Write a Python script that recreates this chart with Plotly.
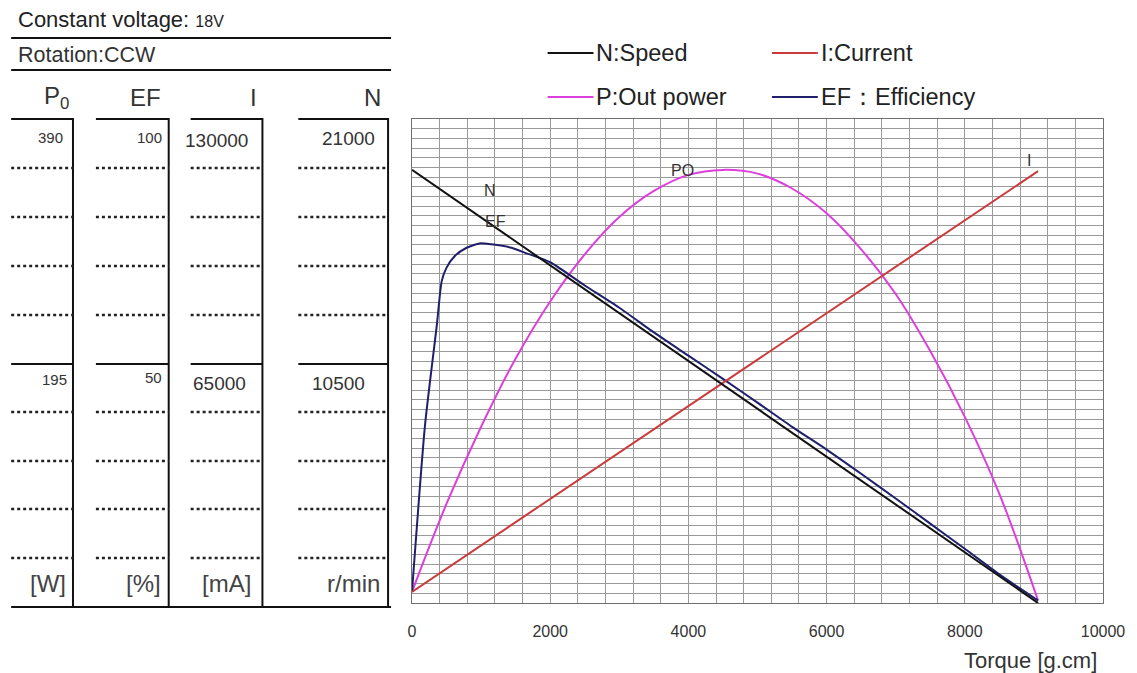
import plotly.graph_objects as go

# ---------------- data ----------------
torque_N = [0, 9060]
speed_N = [18800, 0]                    # r/min

torque_I = [0, 9060]
current_I = [3000, 116000]              # mA

torque_P = [0, 500, 1000, 1500, 2000, 2500, 3000, 3500, 4000, 4500, 5000,
            5500, 6000, 6500, 7000, 7500, 8000, 8500, 9060]
power_P = [9, 80, 142, 197, 243, 281, 311, 332, 345, 349, 346,
           334, 314, 285, 249, 203, 150, 88, 2]        # W

torque_EF = [0, 190, 360, 430, 500, 620, 790, 980, 1150, 1440, 1630, 2000,
             2500, 3000, 3500, 4000, 4500, 5000, 5500, 6000, 6500, 7000,
             7500, 8000, 8500, 9060]
eff_EF = [2.3, 37, 57.5, 66.5, 69.3, 71.7, 73.4, 74.3, 74.1, 73.4, 72.4, 70.4,
          65.6, 61.0, 55.9, 51.1, 46.3, 41.4, 36.4, 31.7, 26.7, 21.6,
          16.4, 11.2, 5.9, 0.5]                       # %

x_ticks = [0, 2000, 4000, 6000, 8000, 10000]
scale_top = ["390", "100", "130000", "21000"]
scale_mid = ["195", "50", "65000", "10500"]
scale_units = ["[W]", "[%]", "[mA]", "r/min"]
col_heads = ["P<sub>0</sub>", "EF", "I", "N"]
legend_names = ["N:Speed", "I:Current", "P:Out power", "EF：Efficiency"]

# ---------------- geometry (screen pixels) ----------------
W, H = 1137, 673
L, R, T, B = 412, 1105, 119, 603          # plot area
PW, PH = R - L, B - T
FONT = "Liberation Sans, Arial, sans-serif"


def px(x):
    return (x - L) / PW


def py(y):
    return (B - y) / PH


C_N, C_I, C_P, C_EF = "#111111", "#cc3b3b", "#dd3fdd", "#1f1f6b"

fig = go.Figure()
fig.add_trace(go.Scatter(x=torque_N, y=speed_N, mode="lines", yaxis="y4",
                         line=dict(color=C_N, width=2), name=legend_names[0]))
fig.add_trace(go.Scatter(x=torque_I, y=current_I, mode="lines", yaxis="y3",
                         line=dict(color=C_I, width=2), name=legend_names[1]))
fig.add_trace(go.Scatter(x=torque_P, y=power_P, mode="lines", yaxis="y",
                         line=dict(color=C_P, width=2, shape="spline"),
                         name=legend_names[2]))
fig.add_trace(go.Scatter(x=torque_EF, y=eff_EF, mode="lines", yaxis="y2",
                         line=dict(color=C_EF, width=2, shape="spline", smoothing=0.6),
                         name=legend_names[3]))

shapes = []
annotations = []

# ---- legend (drawn manually, 2x2) ----
leg_pos = [(548, 53), (773, 53), (548, 97), (773, 97)]
leg_cols = [C_N, C_I, C_P, C_EF]
for (lx, ly), col, name in zip(leg_pos, leg_cols, legend_names):
    shapes.append(dict(type="line", xref="paper", yref="paper",
                       x0=px(lx), x1=px(lx + 46), y0=py(ly), y1=py(ly),
                       line=dict(color=col, width=2)))
    annotations.append(dict(text=name, xref="paper", yref="paper",
                            x=px(lx + 47), y=py(ly), xanchor="left", yanchor="middle",
                            showarrow=False, font=dict(size=23.5, color="#222", family=FONT)))

# ---- left scale table ----
annotations.append(dict(text="Constant voltage: <span style='font-size:16px'>18V</span>",
                        xref="paper", yref="paper", x=px(15), y=py(20),
                        xanchor="left", yanchor="middle", showarrow=False,
                        font=dict(size=22, color="#222", family=FONT)))
annotations.append(dict(text="Rotation:CCW", xref="paper", yref="paper",
                        x=px(15), y=py(55), xanchor="left", yanchor="middle",
                        showarrow=False, font=dict(size=21.5, color="#333", family=FONT)))
for yy in (38, 70, 607):
    shapes.append(dict(type="line", xref="paper", yref="paper",
                       x0=px(10), x1=px(391), y0=py(yy), y1=py(yy),
                       line=dict(color="#111", width=2)))

cols = [(10, 72), (95, 168), (190, 262), (298, 388)]
head_x = [(55, "center"), (145, "center"), (253, "center"), (383, "right")]
for (x0, x1), (hx, ha), head in zip(cols, head_x, col_heads):
    annotations.append(dict(text=head, xref="paper", yref="paper", x=px(hx), y=py(97),
                            xanchor=ha, yanchor="middle", showarrow=False,
                            font=dict(size=24, color="#333", family=FONT)))
    shapes.append(dict(type="line", xref="paper", yref="paper",
                       x0=px(x0), x1=px(x1), y0=py(119), y1=py(119),
                       line=dict(color="#111", width=2)))
    shapes.append(dict(type="line", xref="paper", yref="paper",
                       x0=px(x1), x1=px(x1), y0=py(118), y1=py(607),
                       line=dict(color="#111", width=2)))
    shapes.append(dict(type="line", xref="paper", yref="paper",
                       x0=px(x0), x1=px(x1), y0=py(364), y1=py(364),
                       line=dict(color="#111", width=2)))
    for yy in (168, 217, 266, 315, 412, 461, 509, 558):
        shapes.append(dict(type="line", xref="paper", yref="paper",
                           x0=px(x0), x1=px(x1), y0=py(yy), y1=py(yy),
                           line=dict(color="#222", width=2.5, dash="dot")))

top_pos = [(64, 137, "right", 15), (163, 137, "right", 15),
           (182, 140, "left", 19), (377, 138, "right", 19)]
mid_pos = [(68, 379, "right", 15), (163, 377, "right", 15),
           (190, 383, "left", 19), (310, 383, "left", 19)]
unit_pos = [(67, 583), (162, 583), (253, 583), (382, 583)]
for txt, (ax, ay, an, fs) in zip(scale_top, top_pos):
    annotations.append(dict(text=txt, xref="paper", yref="paper", x=px(ax), y=py(ay),
                            xanchor=an, yanchor="middle", showarrow=False,
                            font=dict(size=fs, color="#333", family=FONT)))
for txt, (ax, ay, an, fs) in zip(scale_mid, mid_pos):
    annotations.append(dict(text=txt, xref="paper", yref="paper", x=px(ax), y=py(ay),
                            xanchor=an, yanchor="middle", showarrow=False,
                            font=dict(size=fs, color="#333", family=FONT)))
for txt, (ax, ay) in zip(scale_units, unit_pos):
    annotations.append(dict(text=txt, xref="paper", yref="paper", x=px(ax), y=py(ay),
                            xanchor="right", yanchor="middle", showarrow=False,
                            font=dict(size=24, color="#444", family=FONT)))

# ---- curve labels ----
for txt, lx, ly in [("N", 490, 190), ("EF", 496, 221), ("PO", 683, 170), ("I", 1031, 160)]:
    annotations.append(dict(text=txt, xref="paper", yref="paper", x=px(lx), y=py(ly),
                            xanchor="center", yanchor="middle", showarrow=False,
                            font=dict(size=16, color="#333", family=FONT)))

# ---- x axis title ----
annotations.append(dict(text="Torque [g.cm]", xref="paper", yref="paper",
                        x=px(1101), y=py(660), xanchor="right", yanchor="middle",
                        showarrow=False, font=dict(size=22, color="#333", family=FONT)))

GRID = "#9a9a9a"
fig.update_layout(
    width=W, height=H,
    margin=dict(l=L, r=W - R, t=T, b=H - B, pad=0),
    paper_bgcolor="white", plot_bgcolor="white",
    showlegend=False,
    font=dict(family=FONT, color="#333"),
    xaxis=dict(range=[0, 10000], tickvals=x_ticks, ticktext=[str(v) for v in x_ticks],
               showgrid=True, gridcolor=GRID, gridwidth=1,
               minor=dict(dtick=400, showgrid=True, gridcolor=GRID, gridwidth=1),
               zeroline=False, showline=True, mirror=True, linecolor="#707070", linewidth=1,
               ticks="outside", ticklen=14, tickcolor="rgba(0,0,0,0)",
               tickfont=dict(size=16, color="#333", family=FONT)),
    yaxis=dict(range=[0, 390], dtick=7.8, showticklabels=False, showgrid=True,
               gridcolor=GRID, gridwidth=1, zeroline=False, showline=True, mirror=True,
               linecolor="#707070", linewidth=1, fixedrange=True),
    yaxis2=dict(range=[0, 100], overlaying="y", visible=False),
    yaxis3=dict(range=[0, 130000], overlaying="y", visible=False),
    yaxis4=dict(range=[0, 21000], overlaying="y", visible=False),
    shapes=shapes,
    annotations=annotations,
)

fig.write_html("out.html", config={"displayModeBar": False},
               post_script="document.body.style.margin='0';document.body.style.overflow='hidden';")
